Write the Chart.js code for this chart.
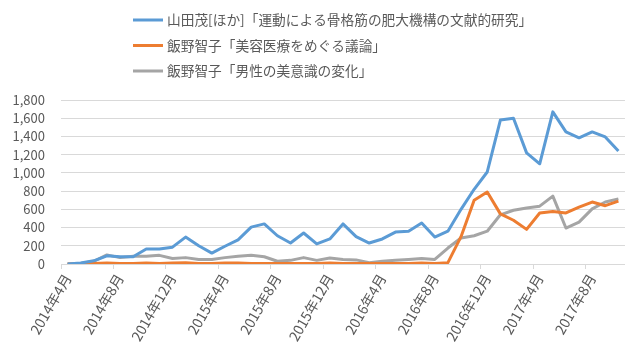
<!DOCTYPE html>
<html>
<head>
<meta charset="utf-8">
<script src="https://cdn.jsdelivr.net/npm/chart.js@4"></script>
<style>
  body { margin: 0; background: #fff; }
  #chart { display: block; }
</style>
</head>
<body>
<canvas id="chart" width="635" height="352"></canvas>
<script>
// monthly, 2014年4月 .. 2017年10月
const MONTHS = [
    "2014年4月", "2014年5月", "2014年6月", "2014年7月", "2014年8月", "2014年9月", "2014年10月", "2014年11月",
    "2014年12月", "2015年1月", "2015年2月", "2015年3月", "2015年4月", "2015年5月", "2015年6月", "2015年7月",
    "2015年8月", "2015年9月", "2015年10月", "2015年11月", "2015年12月", "2016年1月", "2016年2月", "2016年3月",
    "2016年4月", "2016年5月", "2016年6月", "2016年7月", "2016年8月", "2016年9月", "2016年10月", "2016年11月",
    "2016年12月", "2017年1月", "2017年2月", "2017年3月", "2017年4月", "2017年5月", "2017年6月", "2017年7月",
    "2017年8月", "2017年9月", "2017年10月"
];

const SERIES_NAMES = [
    "山田茂[ほか]「運動による骨格筋の肥大機構の文献的研究」",
    "飯野智子「美容医療をめぐる議論」",
    "飯野智子「男性の美意識の変化」"
];

const YAMADA = [0, 10, 35, 90, 80, 80, 165, 165, 185, 295, 200, 120, 195, 265, 405, 440, 310, 230, 340, 220, 275, 440,
    300, 230, 275, 350, 360, 450, 296, 360, 600, 820, 1010, 1580, 1600, 1220, 1100, 1670, 1450, 1385, 1450, 1395, 1240];
const BIYOU = [0, 0, 5, 10, 5, 5, 10, 5, 10, 15, 5, 5, 10, 10, 5, 5, 5, 5, 5, 5, 10, 5,
    5, 5, 5, 5, 5, 10, 5, 15, 300, 700, 790, 550, 480, 380, 560, 575, 560, 625, 680, 640, 690];
const DANSEI = [0, 5, 30, 100, 70, 85, 85, 95, 60, 70, 50, 50, 70, 85, 95, 80, 30, 40, 70, 40, 65, 50,
    45, 15, 30, 40, 50, 60, 50, 175, 285, 310, 360, 540, 590, 615, 635, 745, 395, 460, 605, 680, 715];

const COLORS = ["#5B9BD5", "#ED7D31", "#A5A5A5"];
const TEXT_COLOR = "#595959";
const GRID_COLOR = "#D9D9D9";

Chart.defaults.font.family = "'Noto Sans CJK JP', 'Noto Sans', sans-serif";
Chart.defaults.font.size = 13;
Chart.defaults.color = TEXT_COLOR;

// one legend entry per row, block starting left of centre like the original
const rowLegend = {
    id: 'rowLegend',
    afterDraw(chart) {
        const ctx = chart.ctx;
        ctx.save();
        ctx.font = "13.7px 'Noto Sans CJK JP', sans-serif";
        ctx.textBaseline = 'middle';
        chart.data.datasets.forEach((ds, i) => {
            const y = 20 + i * 25.5;
            ctx.strokeStyle = ds.borderColor;
            ctx.lineWidth = 3;
            ctx.beginPath();
            ctx.moveTo(133, y);
            ctx.lineTo(163, y);
            ctx.stroke();
            ctx.fillStyle = TEXT_COLOR;
            ctx.fillText(ds.label, 167, y);
        });
        ctx.restore();
    }
};

function makeSet(label, data, color) {
    return {
        label,
        data,
        borderColor: color,
        backgroundColor: color,
        borderWidth: 3,
        pointRadius: 0,
        tension: 0,
        borderJoinStyle: 'round'
    };
}

new Chart(document.getElementById('chart'), {
    type: 'line',
    data: {
        labels: MONTHS,
        datasets: [
            makeSet(SERIES_NAMES[0], YAMADA, COLORS[0]),
            makeSet(SERIES_NAMES[1], BIYOU, COLORS[1]),
            makeSet(SERIES_NAMES[2], DANSEI, COLORS[2])
        ]
    },
    options: {
        responsive: false,
        animation: false,
        layout: { padding: { top: 100, right: 4, left: 0, bottom: 0 } },
        plugins: {
            legend: { display: false },
            tooltip: { enabled: false }
        },
        scales: {
            x: {
                offset: true,
                grid: {
                    offset: true,
                    drawOnChartArea: false,
                    tickLength: 5,
                    color: c => (c.index % 4 === 0 ? GRID_COLOR : 'transparent')
                },
                border: { color: GRID_COLOR },
                ticks: {
                    autoSkip: false,
                    minRotation: 60,
                    maxRotation: 60,
                    padding: 2,
                    font: { size: 14 },
                    callback: (v, i) => (i % 4 === 0 ? MONTHS[i] : '')
                },
                afterFit: s => { s.height = 88; }
            },
            y: {
                min: 0,
                max: 1800,
                grid: { color: GRID_COLOR, drawTicks: false },
                border: { display: false },
                ticks: {
                    stepSize: 200,
                    autoSkip: false,
                    padding: 16,
                    callback: v => v.toLocaleString('en-US')
                },
                afterFit: s => { s.width = 61; }
            }
        }
    },
    plugins: [rowLegend]
});
</script>
</body>
</html>
